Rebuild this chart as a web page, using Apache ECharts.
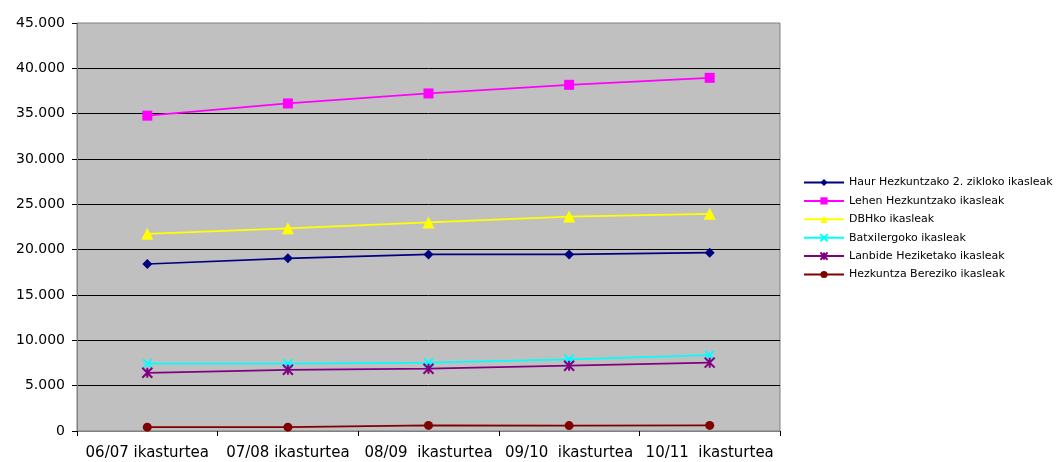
<!DOCTYPE html>
<html><head><meta charset="utf-8">
<script src="https://cdn.jsdelivr.net/npm/echarts@6/dist/echarts.min.js"></script>
<style>html,body{margin:0;padding:0;background:#fff}#c{width:1057px;height:462px}</style>
</head><body><div id="c"></div>
<script>
const categories = ['06/07 ikasturtea', '07/08 ikasturtea', '08/09  ikasturtea', '09/10  ikasturtea', '10/11  ikasturtea'];
const seriesNames = ['Haur Hezkuntzako 2. zikloko ikasleak', 'Lehen Hezkuntzako ikasleak', 'DBHko ikasleak', 'Batxilergoko ikasleak', 'Lanbide Heziketako ikasleak', 'Hezkuntza Bereziko ikasleak'];
const haur = [18420, 19050, 19480, 19480, 19670];
const lehen = [34780, 36130, 37230, 38180, 38950];
const dbh = [21750, 22350, 23000, 23650, 23950];
const batx = [7430, 7430, 7540, 7910, 8360];
const lanbide = [6420, 6750, 6870, 7200, 7540];
const berezi = [420, 420, 620, 600, 620];
const yTicks = [0, 5000, 10000, 15000, 20000, 25000, 30000, 35000, 40000, 45000];

const colors = ['#000080', '#FF00FF', '#FFFF00', '#00FFFF', '#800080', '#800000'];
const symbols = ['diamond', 'rect', 'triangle', 'path://M0,0L10,10M10,0L0,10', 'path://M0,0L10,10M10,0L0,10M5,0L5,10', 'circle'];
const sizes = [10, 10, 12, 9, 10, 9];
const data = [haur, lehen, dbh, batx, lanbide, berezi];

function fmt(v){ return v === 0 ? '0' : String(v).replace(/\B(?=(\d{3})+(?!\d))/g, '.'); }

const series = seriesNames.map((n, i) => {
  const stroke = i === 3 || i === 4;
  return {
    name: n, type: 'line', data: data[i],
    symbol: symbols[i], symbolSize: sizes[i], showAllSymbol: true,
    lineStyle: { color: colors[i], width: 1.7 },
    itemStyle: stroke ? { color: 'rgba(0,0,0,0)', borderColor: colors[i], borderWidth: 2 } : { color: colors[i], borderWidth: 0 },
    emphasis: { disabled: true },
    animation: false
  };
});

const chart = echarts.init(document.getElementById('c'));
chart.setOption({
  animation: false,
  grid: { left: 77, right: 277, top: 23, bottom: 31, show: true, backgroundColor: '#C0C0C0', borderColor: '#808080', borderWidth: 1 },
  xAxis: {
    type: 'category', data: categories, boundaryGap: true,
    axisLine: { lineStyle: { color: '#808080', width: 1 } },
    axisTick: { show: true, interval: 0, length: 5, lineStyle: { color: '#000' }, alignWithLabel: false },
    axisLabel: { interval: 0, hideOverlap: false, color: '#000', fontFamily: 'DejaVu Sans', fontSize: 15, margin: 15 },
    splitLine: { show: false }
  },
  yAxis: {
    type: 'value', min: 0, max: 45000, interval: 5000,
    axisLine: { show: true, lineStyle: { color: '#808080', width: 1 } },
    axisTick: { show: true, length: 5, lineStyle: { color: '#000' } },
    axisLabel: { color: '#000', fontFamily: 'DejaVu Sans', fontSize: 14, margin: 12, formatter: v => fmt(v) },
    splitLine: { show: true, showMinLine: false, showMaxLine: false, lineStyle: { color: '#000', width: 1 } }
  },
  legend: {
    orient: 'vertical', left: 803, top: 176, padding: 0,
    itemWidth: 40, itemHeight: 9, itemGap: 5.4,
    textStyle: { color: '#000', fontFamily: 'DejaVu Sans', fontSize: 11, lineHeight: 13 },
    data: seriesNames,
    selectedMode: false
  },
  series: series
});
</script></body></html>
